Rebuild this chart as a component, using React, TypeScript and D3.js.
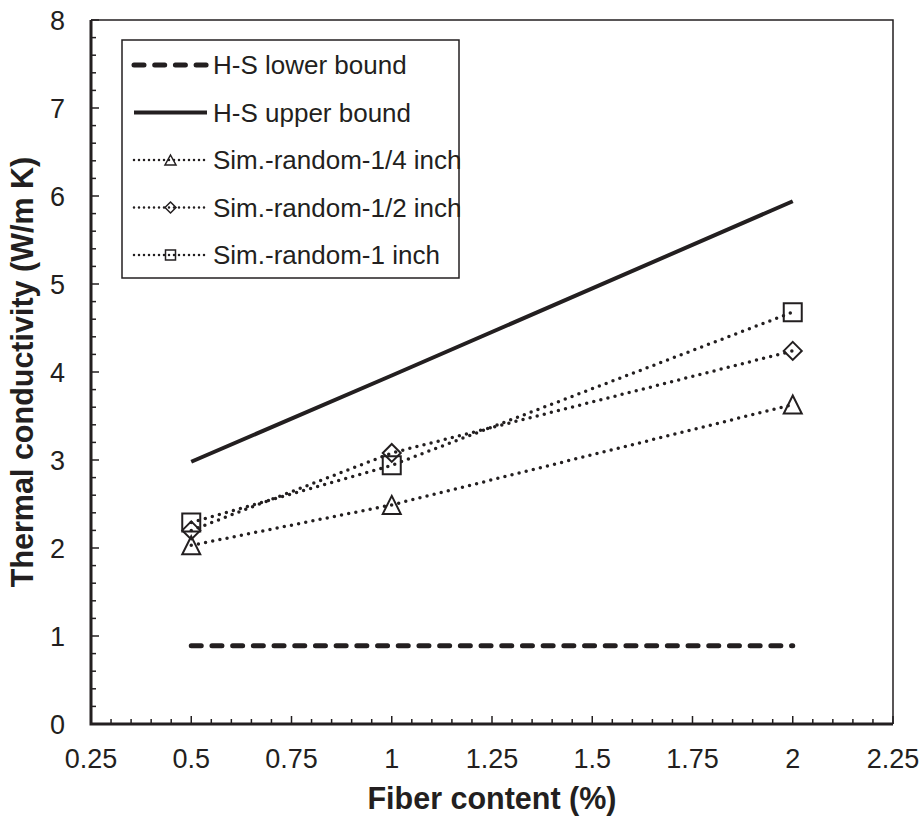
import { useEffect, useRef } from "react";
import * as d3 from "d3";

const fiber = [0.5, 1, 2];
const lowerBound = [0.89, 0.89, 0.89];
const upperBound = [2.98, 3.96, 5.94];
const simQuarter = [2.03, 2.49, 3.63];
const simHalf = [2.2, 3.08, 4.24];
const simOne = [2.29, 2.94, 4.68];

const xTicks = [0.25, 0.5, 0.75, 1, 1.25, 1.5, 1.75, 2, 2.25];
const yTicks = [0, 1, 2, 3, 4, 5, 6, 7, 8];

const legendLabels = [
  "H-S lower bound",
  "H-S upper bound",
  "Sim.-random-1/4 inch",
  "Sim.-random-1/2 inch",
  "Sim.-random-1 inch",
];

// triangle marker: width w, height h, centred on the data point
const triangle = (w: number, h: number) =>
  `M0,${-h / 2}L${w / 2},${h / 2}L${-w / 2},${h / 2}Z`;
const square = (s: number) => `M${-s / 2},${-s / 2}h${s}v${s}h${-s}Z`;
const diamond = (s: number) => `M0,${-s / 2}L${s / 2},0L0,${s / 2}L${-s / 2},0Z`;

export default function App() {
  const ref = useRef<SVGSVGElement>(null);

  useEffect(() => {
    const w = 923, h = 822;
    const m = { left: 91, right: 30, top: 20, bottom: 98 };
    const svg = d3.select(ref.current).html("");
    const font = "'Liberation Sans', Arial, sans-serif";
    const ink = "#231f20";

    const x = d3.scaleLinear().domain([0.25, 2.25]).range([m.left, w - m.right]);
    const y = d3.scaleLinear().domain([0, 8]).range([h - m.bottom, m.top]);

    const g = svg.append("g");

    // minor ticks
    for (let v = 0.25; v <= 2.2501; v += 0.05) {
      const major = xTicks.some((t) => Math.abs(t - v) < 1e-6);
      g.append("line")
        .attr("x1", x(v)).attr("x2", x(v))
        .attr("y1", y(0)).attr("y2", y(0) - (major ? 8 : 5))
        .attr("stroke", ink).attr("stroke-width", 1.5);
    }
    for (let v = 0; v <= 8.0001; v += 0.2) {
      const major = yTicks.some((t) => Math.abs(t - v) < 1e-6);
      g.append("line")
        .attr("x1", x(0.25)).attr("x2", x(0.25) + (major ? 8 : 5))
        .attr("y1", y(v)).attr("y2", y(v))
        .attr("stroke", ink).attr("stroke-width", 1.5);
    }

    // frame: left + bottom bold, right + top thin
    g.append("path")
      .attr("d", `M${x(0.25)},${y(8)}V${y(0)}H${x(2.25)}`)
      .attr("fill", "none").attr("stroke", ink).attr("stroke-width", 3);
    g.append("path")
      .attr("d", `M${x(0.25)},${y(8)}H${x(2.25)}V${y(0)}`)
      .attr("fill", "none").attr("stroke", ink).attr("stroke-width", 1.5);

    g.selectAll(".xt").data(xTicks).enter().append("text")
      .attr("x", (d) => x(d)).attr("y", y(0) + 44)
      .attr("text-anchor", "middle")
      .attr("font-family", font).attr("font-size", 27).attr("fill", ink)
      .text((d) => String(d));
    g.selectAll(".yt").data(yTicks).enter().append("text")
      .attr("x", x(0.25) - 26).attr("y", (d) => y(d) + 10)
      .attr("text-anchor", "end")
      .attr("font-family", font).attr("font-size", 27).attr("fill", ink)
      .text((d) => String(d));

    g.append("text")
      .attr("x", (m.left + w - m.right) / 2).attr("y", h - 13)
      .attr("text-anchor", "middle")
      .attr("font-family", font).attr("font-size", 30.5).attr("font-weight", "bold").attr("fill", ink)
      .text("Fiber content (%)");
    g.append("text")
      .attr("transform", `translate(33,${(m.top + h - m.bottom) / 2}) rotate(-90)`)
      .attr("text-anchor", "middle")
      .attr("font-family", font).attr("font-size", 30.5).attr("font-weight", "bold").attr("fill", ink)
      .text("Thermal conductivity (W/m K)");

    const line = d3.line<number>().x((_, i) => x(fiber[i])).y((d) => y(d));

    g.append("path").attr("d", line(lowerBound)).attr("fill", "none")
      .attr("stroke", ink).attr("stroke-width", 5).attr("stroke-linecap", "round")
      .attr("stroke-dasharray", "10 10.7");
    g.append("path").attr("d", line(upperBound)).attr("fill", "none")
      .attr("stroke", ink).attr("stroke-width", 4);

    const sims = [
      { data: simQuarter, shape: triangle(18, 18), small: triangle(11, 10) },
      { data: simHalf, shape: diamond(18), small: diamond(11) },
      { data: simOne, shape: square(18), small: square(10) },
    ];
    sims.forEach((s) => {
      g.append("path").attr("d", line(s.data)).attr("fill", "none")
        .attr("stroke", ink).attr("stroke-width", 3.5).attr("stroke-linecap", "round")
        .attr("stroke-dasharray", "0 7.3");
    });
    sims.forEach((s) => {
      g.selectAll(null).data(s.data).enter().append("path")
        .attr("transform", (d, i) => `translate(${x(fiber[i])},${y(d)})`)
        .attr("d", s.shape)
        .attr("fill", "none").attr("stroke", ink).attr("stroke-width", 2);
    });

    // legend
    const lg = g.append("g");
    lg.append("rect").attr("x", 122).attr("y", 40).attr("width", 337).attr("height", 238)
      .attr("fill", "white").attr("stroke", ink).attr("stroke-width", 1.5);
    const rowY = (i: number) => 65 + i * 47.5;
    const lx1 = 134, lx2 = 207;
    legendLabels.forEach((lab, i) => {
      const yy = rowY(i);
      const seg = lg.append("line").attr("x1", lx1).attr("x2", lx2).attr("y1", yy).attr("y2", yy)
        .attr("stroke", ink);
      if (i === 0) seg.attr("stroke-width", 5).attr("stroke-linecap", "round").attr("stroke-dasharray", "10 10.7");
      else if (i === 1) seg.attr("stroke-width", 4);
      else {
        seg.attr("stroke-width", 2.5).attr("stroke-linecap", "round").attr("stroke-dasharray", "0 5");
        const s = sims[i - 2];
        lg.append("path").attr("transform", `translate(${(lx1 + lx2) / 2},${yy})`)
          .attr("d", s.small)
          .attr("fill", "none").attr("stroke", ink).attr("stroke-width", 1.5);
      }
      lg.append("text").attr("x", 213).attr("y", yy + 9)
        .attr("font-family", font).attr("font-size", 26).attr("fill", ink)
        .text(lab);
    });
  }, []);

  return (
    <svg
      ref={ref}
      width={923}
      height={822}
      style={{ display: "block", position: "absolute", left: 0, top: 0 }}
    />
  );
}
